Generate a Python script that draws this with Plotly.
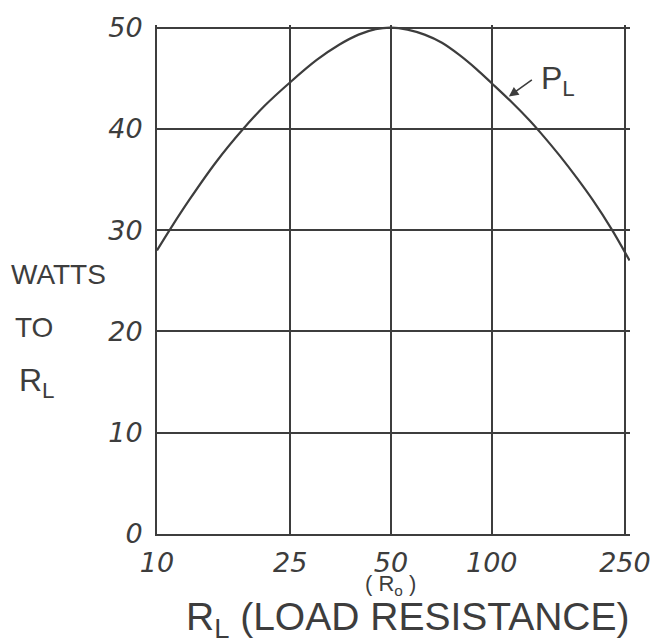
import numpy as np
import plotly.graph_objects as go

# Values
r_load = [10, 11, 12.5, 15, 18, 21, 25, 30, 35, 40, 45, 50, 56, 63, 71, 80, 90, 100,
          115, 130, 140, 160, 180, 200, 228, 258]
watts = [28.0, 30.2, 33.0, 36.7, 39.9, 42.3, 44.6, 46.8, 48.3, 49.3, 49.85, 50.0, 49.8, 49.3,
         48.5, 47.3, 45.9, 44.5, 42.6, 40.8, 39.6, 37.3, 35.1, 33.0, 30.1, 27.0]
x_ticks = [10, 25, 50, 100, 250]
x_tick_text = ["10", "25", "50", "100", "250"]
y_ticks = [0, 10, 20, 30, 40, 50]
y_tick_text = ["0", "10", "20", "30", "40", "50"]

INK = "#3d3d3d"
FONT = "Liberation Sans"
NUMFONT = "DejaVu Sans"

fig = go.Figure()
fig.add_trace(go.Scatter(
    x=r_load, y=watts, mode="lines",
    line=dict(color=INK, width=2.2, shape="spline", smoothing=1),
    hoverinfo="skip", showlegend=False,
))

fig.update_layout(
    width=663, height=644,
    margin=dict(l=157, r=28, t=24, b=110),
    paper_bgcolor="white", plot_bgcolor="white",
    showlegend=False,
    xaxis=dict(
        type="log", range=[1, 2.413],
        tickmode="array", tickvals=x_ticks, ticktext=x_tick_text,
        showgrid=True, gridcolor=INK, gridwidth=1.6,
        showline=True, linecolor=INK, linewidth=2,
        zeroline=False, ticks="",
        ticklabelstandoff=4,
        tickfont=dict(family=NUMFONT, size=27, color=INK, style="italic"),
    ),
    yaxis=dict(
        range=[0, 50.25],
        tickmode="array", tickvals=y_ticks, ticktext=y_tick_text,
        showgrid=True, gridcolor=INK, gridwidth=1.6,
        showline=True, linecolor=INK, linewidth=2,
        zeroline=False, ticks="",
        ticklabelstandoff=7,
        tickfont=dict(family=NUMFONT, size=27, color=INK, style="italic"),
    ),
)

txt = dict(family=FONT, color=INK)
# x-axis title
fig.add_annotation(xref="paper", yref="paper", x=0.531, y=-0.167,
                   text="R<sub>L</sub> (LOAD RESISTANCE)", showarrow=False,
                   xanchor="center", yanchor="middle", font=dict(size=39, **txt))
# (R0) under 50
fig.add_annotation(xref="x", yref="paper", x=np.log10(50), y=-0.1,
                   text="( R<sub>o</sub> )", showarrow=False,
                   xanchor="center", yanchor="middle", font=dict(size=22, **txt))
# y-axis label lines
fig.add_annotation(xref="paper", yref="paper", x=-0.313, y=0.51, text="WATTS",
                   showarrow=False, xanchor="left", yanchor="middle", font=dict(size=28, **txt))
fig.add_annotation(xref="paper", yref="paper", x=-0.304, y=0.406, text="TO",
                   showarrow=False, xanchor="left", yanchor="middle", font=dict(size=28, **txt))
fig.add_annotation(xref="paper", yref="paper", x=-0.295, y=0.298, text="R<sub>L</sub>",
                   showarrow=False, xanchor="left", yanchor="middle", font=dict(size=32, **txt))
# P_L label and its arrow
fig.add_annotation(xref="paper", yref="paper", x=0.848, y=0.89,
                   text="P<sub>L</sub>", showarrow=False,
                   xanchor="center", yanchor="middle", font=dict(size=32, **txt))
fig.add_annotation(xref="x", yref="y", x=np.log10(112.5), y=43.2,
                   text=" ", showarrow=True, ax=25, ay=-18,
                   arrowhead=2, arrowsize=1.2, arrowwidth=1.6, arrowcolor=INK,
                   font=dict(size=4, **txt))

fig.write_html("out.html", config={"displayModeBar": False},
               post_script="document.body.style.margin='0';")
